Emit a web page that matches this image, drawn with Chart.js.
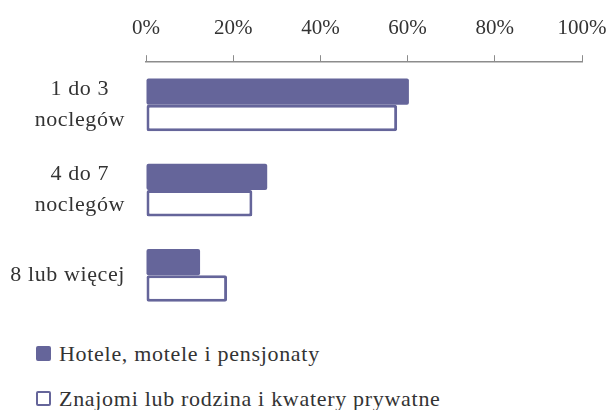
<!DOCTYPE html>
<html>
<head>
<meta charset="utf-8">
<script src="https://cdn.jsdelivr.net/npm/chart.js@4"></script>
<style>
  body { margin: 0; background: #fff; overflow: hidden; }
  #wrap { position: relative; width: 613px; height: 322px; }
  #legend { font-family: "Liberation Serif", serif; font-size: 22px; letter-spacing: 0.7px; color: #333; margin-left: 36px; }
  .item { display: flex; align-items: center; height: 45px; line-height: 24px; }
  .item:first-child { margin-top: 9px; }
  .box { width: 11px; height: 11px; border: 2px solid #65659a; border-radius: 2px; margin-right: 8px; }
</style>
</head>
<body>
<div id="wrap"><canvas id="chart" width="613" height="322"></canvas></div>
<div id="legend"></div>
<script>
// data
const categories = [["1 do 3", "noclegów"], ["4 do 7", "noclegów"], ["8 lub więcej"]];
const seriesNames = ["Hotele, motele i pensjonaty", "Znajomi lub rodzina i kwatery prywatne"];
const hotels = [60.3, 27.8, 12.4];
const friends = [57.6, 24.4, 18.6];
const tickValues = [0, 20, 40, 60, 80, 100];

const purple = "#65659a";
const textColor = "#333333";

// draw the category labels centered within a right-aligned block
const yLabels = {
  id: "yLabels",
  afterDraw(chart) {
    const ctx = chart.ctx;
    const y = chart.scales.y;
    const right = chart.chartArea.left - 21;
    ctx.save();
    ctx.font = '22px "Liberation Serif"';
    ctx.letterSpacing = "0.6px";
    ctx.fillStyle = textColor;
    ctx.textAlign = "center";
    ctx.textBaseline = "middle";
    const lh = 31;
    categories.forEach((lines, i) => {
      const cy = y.getPixelForTick(i);
      const w = Math.max(...lines.map(l => ctx.measureText(l).width));
      const cx = right - w / 2;
      lines.forEach((l, j) => {
        ctx.fillText(l, cx, cy + (j - (lines.length - 1) / 2) * lh);
      });
    });
    ctx.restore();
  }
};

new Chart(document.getElementById("chart"), {
  type: "bar",
  data: {
    labels: categories,
    datasets: [
      {
        label: seriesNames[0],
        data: hotels,
        backgroundColor: purple,
        borderColor: purple,
        borderWidth: 0,
        borderRadius: 2,
        borderSkipped: false,
      },
      {
        label: seriesNames[1],
        data: friends,
        backgroundColor: "#ffffff",
        borderColor: purple,
        borderWidth: 3,
        borderRadius: 2,
        borderSkipped: false,
      },
    ],
  },
  options: {
    indexAxis: "y",
    responsive: false,
    maintainAspectRatio: false,
    animation: false,
    layout: { padding: { left: 0, right: 31, top: 2, bottom: 4 } },
    plugins: {
      legend: { display: false },
      tooltip: { enabled: false },
    },
    datasets: {
      bar: { barPercentage: 1, categoryPercentage: 0.62 },
    },
    scales: {
      x: {
        position: "top",
        min: 0,
        max: 100,
        afterBuildTicks: (scale) => {
          scale.ticks = tickValues.map(v => ({ value: v }));
        },
        afterFit: (scale) => {
          // let the layout padding alone decide the right edge
          scale.paddingRight = 0;
          scale.paddingLeft = 0;
        },
        ticks: {
          callback: (v) => v + "%",
          color: textColor,
          font: { family: "Liberation Serif", size: 21 },
          padding: 14,
          maxRotation: 0,
        },
        grid: {
          drawOnChartArea: false,
          drawTicks: true,
          tickLength: 7,
          color: "#8c8c8c",
        },
        border: { color: "#8c8c8c", width: 1.5 },
      },
      y: {
        afterFit: (scale) => { scale.width = 146; },
        ticks: { display: false },
        grid: { display: false },
        border: { display: false },
      },
    },
  },
  plugins: [yLabels],
});

// legend below the chart
const legend = document.getElementById("legend");
seriesNames.forEach((name, i) => {
  const item = document.createElement("div");
  item.className = "item";
  const box = document.createElement("span");
  box.className = "box";
  box.style.background = i === 0 ? purple : "#ffffff";
  item.appendChild(box);
  item.appendChild(document.createTextNode(name));
  legend.appendChild(item);
});
</script>
</body>
</html>
